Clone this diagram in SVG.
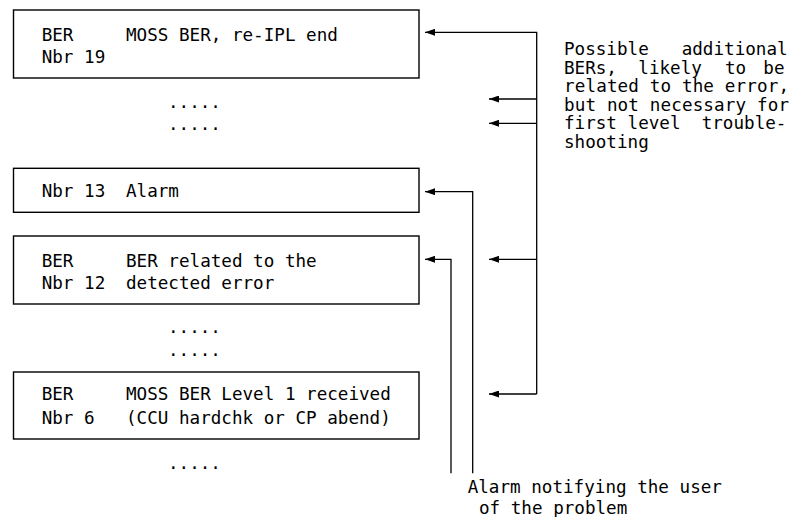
<svg xmlns="http://www.w3.org/2000/svg" width="791" height="517" viewBox="0 0 791 517">
<style>
text{font-family:"DejaVu Sans Mono","Liberation Mono",monospace;font-size:17.6px;fill:#000}
.box{fill:#fff;stroke:#000;stroke-width:1.4}
.ln{fill:none;stroke:#000;stroke-width:1.3}
</style>
<defs>
<marker id="ah" viewBox="0 0 10 7" refX="10" refY="3.5" markerWidth="10" markerHeight="7" markerUnits="userSpaceOnUse" orient="auto">
<path d="M0,0 L10,3.5 L0,7 Z" fill="#000"/>
</marker>
</defs>
<rect width="791" height="517" fill="#fff"/>
<g id="ber19">
<rect class="box" x="13.5" y="10" width="405.5" height="68"/>
<text x="41.7" y="40.7">BER</text><text x="126" y="40.7">MOSS BER, re-IPL end</text>
<text x="41.7" y="63.3">Nbr 19</text>
</g>
<g id="dots1">
<text x="168" y="107.5">.....</text>
<text x="168" y="129.5">.....</text>
</g>
<g id="nbr13">
<rect class="box" x="13.5" y="168.3" width="405.5" height="44"/>
<text x="41.7" y="197.3">Nbr 13</text><text x="126" y="197.3">Alarm</text>
</g>
<g id="ber12">
<rect class="box" x="13.5" y="236" width="405.5" height="68"/>
<text x="41.7" y="266.5">BER</text><text x="126" y="266.5">BER related to the</text>
<text x="41.7" y="289">Nbr 12</text><text x="126" y="289">detected error</text>
</g>
<g id="dots2">
<text x="168" y="332.5">.....</text>
<text x="168" y="355.5">.....</text>
</g>
<g id="ber6">
<rect class="box" x="13.5" y="372" width="405.5" height="67"/>
<text x="41.7" y="400">BER</text><text x="126" y="400">MOSS BER Level 1 received</text>
<text x="41.7" y="423.5">Nbr 6</text><text x="126" y="423.5">(CCU hardchk or CP abend)</text>
</g>
<g id="dots3">
<text x="168" y="469">.....</text>
</g>
<g id="note-additional">
<text x="564" y="55">Possible</text><text x="681.7" y="55">additional</text>
<text x="564" y="73.5">BERs,</text><text x="638.3" y="73.5">likely</text><text x="725" y="73.5">to</text><text x="763.3" y="73.5">be</text>
<text x="564" y="92" textLength="225" lengthAdjust="spacing">related to the error,</text>
<text x="564" y="110.5" textLength="225" lengthAdjust="spacing">but not necessary for</text>
<text x="564" y="129">first level</text><text x="701.7" y="129">trouble-</text>
<text x="564" y="147.5">shooting</text>
</g>
<g id="note-alarm">
<text x="467.7" y="492.5">Alarm notifying the user</text>
<text x="479" y="514">of the problem</text>
</g>
<g id="connectors">
<path class="ln" d="M536.7,394 V32.3 H425" marker-end="url(#ah)"/>
<path class="ln" d="M536.7,99 H489" marker-end="url(#ah)"/>
<path class="ln" d="M536.7,123.3 H489" marker-end="url(#ah)"/>
<path class="ln" d="M536.7,259.3 H489" marker-end="url(#ah)"/>
<path class="ln" d="M536.7,394 H489" marker-end="url(#ah)"/>
<path class="ln" d="M472.7,473.3 V191.7 H425" marker-end="url(#ah)"/>
<path class="ln" d="M451,473.3 V259.3 H425" marker-end="url(#ah)"/>
</g>
</svg>
